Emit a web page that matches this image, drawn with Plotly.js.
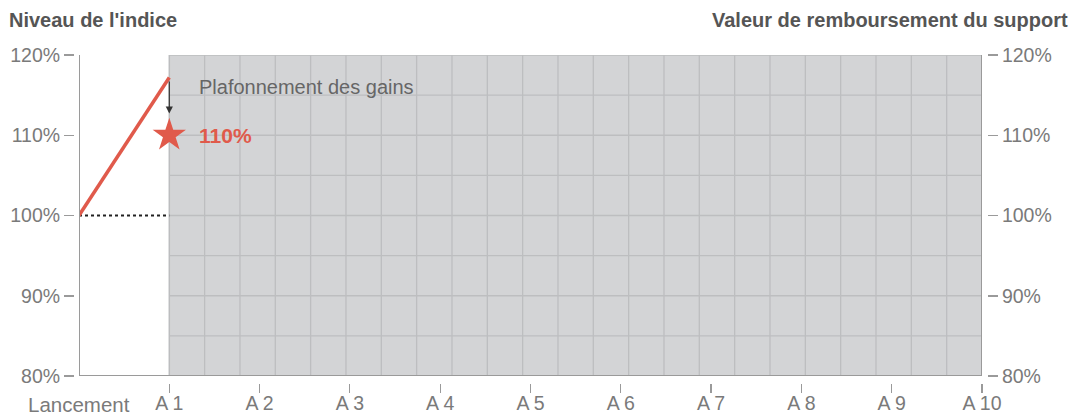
<!DOCTYPE html>
<html>
<head>
<meta charset="utf-8">
<script src="https://cdn.plot.ly/plotly-3.0.1.min.js"></script>
<style>html,body{margin:0;padding:0;background:#fff;}#chart{width:1075px;height:416px;}</style>
</head>
<body>
<div id="chart"></div>
<script>
// ---- data ----
const xTickVals = [1, 2, 3, 4, 5, 6, 7, 8, 9, 10];
const xTickText = ['A 1', 'A 2', 'A 3', 'A 4', 'A 5', 'A 6', 'A 7', 'A 8', 'A 9', 'A 10'];
const launchLabel = 'Lancement';
const yTickVals = [80, 90, 100, 110, 120];
const yTickText = ['80%', '90%', '100%', '110%', '120%'];
const indexX = [0, 1];
const indexY = [100, 117.2];
const initialX = [0, 1];
const initialY = [100, 100];
const capX = [1];
const capY = [110];
const capLabel = '110%';
const capNote = 'Plafonnement des gains';
const leftTitle = "Niveau de l'indice";
const rightTitle = 'Valeur de remboursement du support';

// ---- geometry helpers (layout only) ----
const W = 1075, H = 416;
const mL = 60, mR = 75, mT = 55, mB = 20;
const pw = W - mL - mR, ph = H - mT - mB;
const px2fx = p => (p - mL) / pw;
const py2fy = p => (H - mB - p) / ph;

const red = '#e05a4b';
const axisGrey = '#9a9a9a';
const labelGrey = '#7a7a7a';
const font = 'Liberation Sans, Arial, sans-serif';
const tickSize = 19.5;

const shapes = [];
// grey zone
shapes.push({type: 'rect', xref: 'x', yref: 'y', x0: 1, x1: 10, y0: 80, y1: 120,
  fillcolor: '#d3d4d6', line: {color: '#bcbdbf', width: 1.5}, layer: 'below'});
// grid: 23 columns, 8 rows
for (let k = 1; k < 23; k++) {
  const gx = 1 + 9 * k / 23;
  shapes.push({type: 'line', xref: 'x', yref: 'y', x0: gx, x1: gx, y0: 80, y1: 120,
    line: {color: '#bdbec0', width: 1.3}, layer: 'below'});
}
for (let v = 85; v < 120; v += 5) {
  shapes.push({type: 'line', xref: 'x', yref: 'y', x0: 1, x1: 10, y0: v, y1: v,
    line: {color: '#bdbec0', width: 1.3}, layer: 'below'});
}
// axis lines
shapes.push({type: 'line', xref: 'x', yref: 'y', x0: 0, x1: 0, y0: 80, y1: 120, line: {color: axisGrey, width: 2}});
shapes.push({type: 'line', xref: 'x', yref: 'y', x0: 10, x1: 10, y0: 80, y1: 120, line: {color: axisGrey, width: 2}});
shapes.push({type: 'line', xref: 'x', yref: 'y', x0: 0, x1: 10, y0: 80, y1: 80, line: {color: axisGrey, width: 2}});

const traces = [
  {x: initialX, y: initialY, mode: 'lines', line: {color: '#222', width: 2, dash: 'dot'}, hoverinfo: 'skip', cliponaxis: false},
  {x: indexX, y: indexY, mode: 'lines', line: {color: red, width: 3.5}, hoverinfo: 'skip', cliponaxis: false},
  {x: capX, y: capY, mode: 'markers', marker: {symbol: 'star', size: 25, color: red, line: {width: 0}}, hoverinfo: 'skip', cliponaxis: false},
  {x: [0], y: [100], yaxis: 'y2', mode: 'markers', marker: {opacity: 0}, hoverinfo: 'skip', showlegend: false},
  {x: [0], y: [100], xaxis: 'x2', mode: 'markers', marker: {opacity: 0}, hoverinfo: 'skip', showlegend: false}
];

const annotations = [
  {xref: 'paper', yref: 'paper', x: px2fx(7), y: py2fy(20), xanchor: 'left', yanchor: 'middle',
   text: '<b>' + leftTitle + '</b>', showarrow: false, font: {family: font, size: 20, color: '#555'}},
  {xref: 'paper', yref: 'paper', x: px2fx(1070), y: py2fy(20), xanchor: 'right', yanchor: 'middle',
   text: '<b>' + rightTitle + '</b>', showarrow: false, font: {family: font, size: 20, color: '#555'}},
  {xref: 'x', yref: 'paper', x: 0, y: py2fy(404), xanchor: 'center', yanchor: 'middle',
   text: launchLabel, showarrow: false, font: {family: font, size: 20.5, color: labelGrey}},
  {xref: 'x', yref: 'y', x: capX[0] + 0.31, y: 116.0, xanchor: 'left', yanchor: 'middle',
   text: capNote, showarrow: false, font: {family: font, size: 20, color: '#666'}},
  {xref: 'x', yref: 'y', x: capX[0] + 0.31, y: capY[0], xanchor: 'left', yanchor: 'middle',
   text: '<b>' + capLabel + '</b>', showarrow: false, font: {family: font, size: 21, color: red}},
  {xref: 'x', yref: 'y', x: 1, y: 112.7, axref: 'x', ayref: 'y', ax: 1, ay: 116.9, text: '',
   showarrow: true, arrowhead: 2, arrowsize: 1.2, arrowwidth: 1.2, arrowcolor: '#333'}
];

const layout = {
  width: W, height: H,
  margin: {l: mL, r: mR, t: mT, b: mB, pad: 0},
  paper_bgcolor: '#fff', plot_bgcolor: 'rgba(0,0,0,0)',
  showlegend: false,
  xaxis: {domain: [px2fx(79), px2fx(982)], range: [0, 10], anchor: 'free', position: py2fy(383),
    tickvals: xTickVals, ticks: 'outside', ticklen: 9, tickwidth: 1.2, tickcolor: axisGrey,
    showticklabels: false,
    showline: false, showgrid: false, zeroline: false, fixedrange: true},
  xaxis2: {domain: [px2fx(79), px2fx(982)], range: [0, 10], overlaying: 'x', anchor: 'free', position: py2fy(389),
    tickvals: xTickVals, ticktext: xTickText, ticks: '', showline: false, showgrid: false, zeroline: false, fixedrange: true,
    tickfont: {family: font, size: tickSize, color: labelGrey}},
  yaxis: {domain: [py2fy(376), 1], range: [80, 120], anchor: 'free', position: px2fx(74),
    tickvals: yTickVals, ticktext: yTickText, ticks: 'outside', ticklen: 10, tickwidth: 1.5, tickcolor: axisGrey,
    showline: false, showgrid: false, zeroline: false, fixedrange: true,
    tickfont: {family: font, size: tickSize, color: labelGrey}},
  yaxis2: {domain: [py2fy(376), 1], range: [80, 120], overlaying: 'y', side: 'right', anchor: 'free', position: px2fx(987),
    tickvals: yTickVals, ticktext: yTickText, ticks: 'outside', ticklen: 10, tickwidth: 1.5, tickcolor: axisGrey,
    showline: false, showgrid: false, zeroline: false, fixedrange: true,
    tickfont: {family: font, size: tickSize, color: labelGrey}},
  shapes: shapes,
  annotations: annotations
};

Plotly.newPlot('chart', traces, layout, {displayModeBar: false, staticPlot: true});
</script>
</body>
</html>
